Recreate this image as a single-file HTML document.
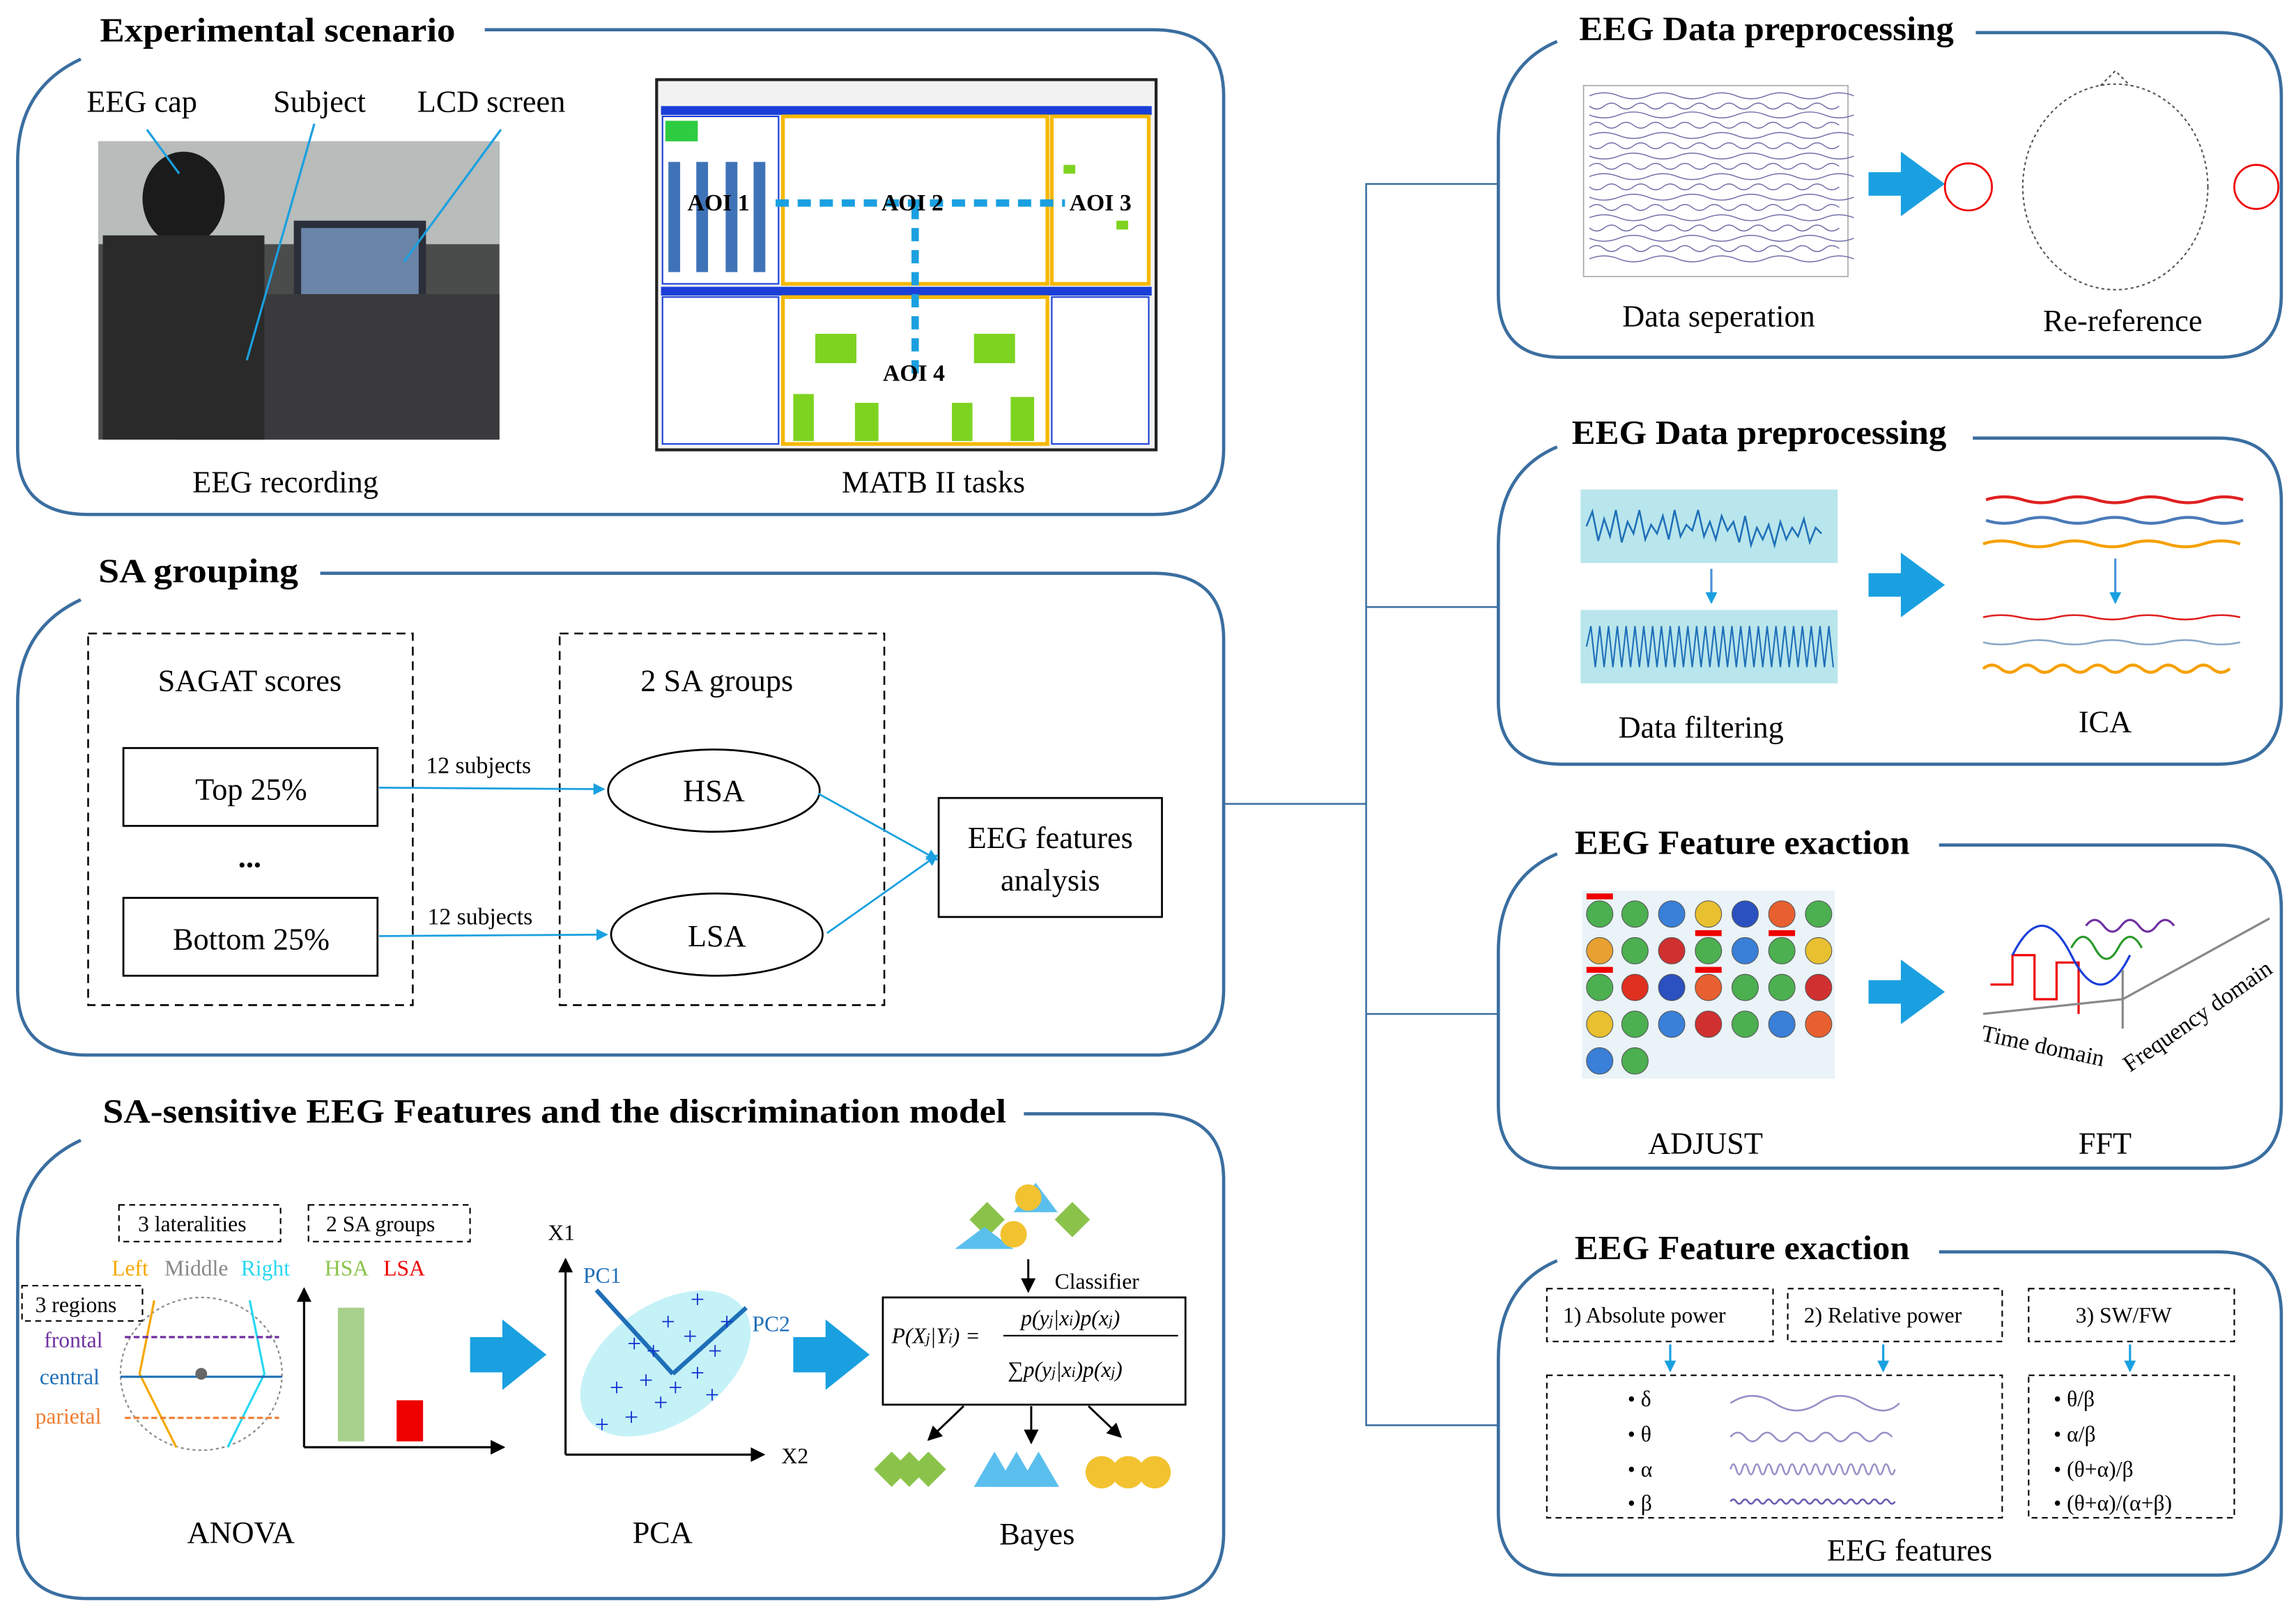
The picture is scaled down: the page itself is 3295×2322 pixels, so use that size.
<!DOCTYPE html>
<html><head><meta charset="utf-8"><style>html,body{margin:0;padding:0;background:#fff}svg{display:block}</style></head><body>
<svg xmlns="http://www.w3.org/2000/svg" width="3295" height="2322" viewBox="0 0 1563 1101" font-family="Liberation Serif, serif">
<defs>
<marker id="a" markerWidth="8" markerHeight="8" refX="7" refY="4" orient="auto" markerUnits="userSpaceOnUse"><path d="M0,0L8,4L0,8z" fill="#1aa0e0"/></marker>
<marker id="k" markerWidth="10" markerHeight="10" refX="9" refY="5" orient="auto" markerUnits="userSpaceOnUse"><path d="M0,0L10,5L0,10z" fill="#000"/></marker>
</defs>
<g fill="none" stroke="#3a6ea0" stroke-width="2.2">
<path d="M55,40 Q12,60 12,110 L12,305 Q12,350 60,350 L785,350 Q833,350 833,305 L833,65 Q833,20 785,20 L330,20"/>
<path d="M55,408 Q12,428 12,478 L12,673 Q12,718 60,718 L785,718 Q833,718 833,673 L833,435 Q833,390 785,390 L218,390"/>
<path d="M55,776 Q12,796 12,846 L12,1043 Q12,1088 60,1088 L785,1088 Q833,1088 833,1043 L833,803 Q833,758 785,758 L697,758"/>
<path d="M1060,28 Q1020,45 1020,95 L1020,200 Q1020,243 1063,243 L1510,243 Q1553,243 1553,200 L1553,65 Q1553,22 1510,22 L1345,22"/>
<path d="M1060,304 Q1020,321 1020,371 L1020,477 Q1020,520 1063,520 L1510,520 Q1553,520 1553,477 L1553,341 Q1553,298 1510,298 L1343,298"/>
<path d="M1060,581 Q1020,598 1020,648 L1020,752 Q1020,795 1063,795 L1510,795 Q1553,795 1553,752 L1553,618 Q1553,575 1510,575 L1320,575"/>
<path d="M1060,858 Q1020,875 1020,925 L1020,1029 Q1020,1072 1063,1072 L1510,1072 Q1553,1072 1553,1029 L1553,895 Q1553,852 1510,852 L1320,852"/>
</g>
<g stroke="#3a6ea0" stroke-width="1.2" fill="none">
<path d="M1020,125 L930,125 L930,970 L1020,970 M930,413 L1020,413 M930,690 L1020,690 M833,547 L930,547"/>
</g>
<g font-weight="bold" font-size="23" lengthAdjust="spacingAndGlyphs">
<text x="68" y="28" textLength="242" lengthAdjust="spacingAndGlyphs">Experimental scenario</text>
<text x="67" y="396" textLength="136" lengthAdjust="spacingAndGlyphs">SA grouping</text>
<text x="70" y="764" textLength="615" lengthAdjust="spacingAndGlyphs">SA-sensitive EEG Features and the discrimination model</text>
<text x="1075" y="27" textLength="255" lengthAdjust="spacingAndGlyphs">EEG Data preprocessing</text>
<text x="1070" y="302" textLength="255" lengthAdjust="spacingAndGlyphs">EEG Data preprocessing</text>
<text x="1072" y="581" textLength="228" lengthAdjust="spacingAndGlyphs">EEG Feature exaction</text>
<text x="1072" y="857" textLength="228" lengthAdjust="spacingAndGlyphs">EEG Feature exaction</text>
</g>
<g font-size="21">
<text x="59" y="76">EEG cap</text><text x="186" y="76">Subject</text><text x="284" y="76">LCD screen</text>
<text x="131" y="335">EEG recording</text><text x="573" y="335">MATB II tasks</text>
</g>
<rect x="67" y="96" width="273" height="203" fill="#4a4c4c"/>
<rect x="67" y="96" width="273" height="70" fill="#b8bcbb"/>
<rect x="200" y="150" width="90" height="60" fill="#2a2f3a"/><rect x="205" y="155" width="80" height="50" fill="#6a85a8"/>
<rect x="120" y="200" width="220" height="99" fill="#3a3a3c"/>
<ellipse cx="125" cy="135" rx="28" ry="32" fill="#1b1b1b"/><rect x="70" y="160" width="110" height="139" fill="#2a2a2a"/>
<g stroke="#1aa0e0" stroke-width="1.5"><line x1="100" y1="88" x2="122" y2="118"/><line x1="214" y1="84" x2="168" y2="245"/><line x1="341" y1="88" x2="275" y2="178"/></g>
<rect x="447" y="54" width="340" height="252" fill="#f2f2f2" stroke="#222" stroke-width="2"/>
<rect x="450" y="72" width="334" height="6" fill="#1a3fd8"/>
<rect x="450" y="195" width="334" height="6" fill="#1a3fd8"/>
<rect x="451" y="79" width="79" height="114" fill="#fff" stroke="#1a3fd8"/>
<rect x="533" y="79" width="180" height="114" fill="#fff" stroke="#f5b800" stroke-width="2.5"/>
<rect x="716" y="79" width="66" height="114" fill="#fff" stroke="#f5b800" stroke-width="2.5"/>
<rect x="533" y="202" width="180" height="100" fill="#fff" stroke="#f5b800" stroke-width="2.5"/>
<rect x="451" y="202" width="79" height="100" fill="#fff" stroke="#1a3fd8"/>
<rect x="716" y="202" width="66" height="100" fill="#fff" stroke="#1a3fd8"/>
<rect x="453" y="82" width="22" height="14" fill="#2ecc40"/>
<g fill="#3f73b8"><rect x="455" y="110" width="8" height="75"/><rect x="474" y="110" width="8" height="75"/><rect x="494" y="110" width="8" height="75"/><rect x="513" y="110" width="8" height="75"/></g>
<g fill="#7ed321"><rect x="555" y="227" width="28" height="20"/><rect x="663" y="227" width="28" height="20"/><rect x="540" y="268" width="14" height="32"/><rect x="582" y="274" width="16" height="26"/><rect x="648" y="274" width="14" height="26"/><rect x="688" y="270" width="16" height="30"/><rect x="724" y="112" width="8" height="6"/><rect x="760" y="150" width="8" height="6"/></g>
<g stroke="#1aa0e0" stroke-width="5" stroke-dasharray="9,6"><line x1="528" y1="138" x2="725" y2="138"/><line x1="623" y1="140" x2="623" y2="255"/></g>
<g font-size="16" font-weight="bold"><text x="468" y="143">AOI 1</text><text x="600" y="143">AOI 2</text><text x="728" y="143">AOI 3</text><text x="601" y="259">AOI 4</text></g>
<g fill="none" stroke="#000" stroke-dasharray="6,4" stroke-width="1.2"><rect x="60" y="431" width="221" height="253"/><rect x="381" y="431" width="221" height="253"/></g>
<g fill="none" stroke="#000" stroke-width="1.3"><rect x="84" y="509" width="173" height="53"/><rect x="84" y="611" width="173" height="53"/><ellipse cx="486" cy="538" rx="72" ry="28"/><ellipse cx="488" cy="636" rx="72" ry="28"/><rect x="639" y="543" width="152" height="81"/></g>
<g stroke="#1aa0e0" stroke-width="1.3" fill="none"><line x1="258" y1="536" x2="411" y2="537" marker-end="url(#a)"/><line x1="258" y1="637" x2="413" y2="636" marker-end="url(#a)"/><line x1="557" y1="540" x2="638" y2="585" marker-end="url(#a)"/><line x1="563" y1="635" x2="638" y2="582" marker-end="url(#a)"/></g>
<g font-size="21" text-anchor="middle"><text x="170" y="470">SAGAT scores</text><text x="488" y="470">2 SA groups</text><text x="171" y="544">Top 25%</text><text x="171" y="646">Bottom 25%</text><text x="170" y="590" font-weight="bold">...</text><text x="486" y="545">HSA</text><text x="488" y="644">LSA</text><text x="715" y="577">EEG features</text><text x="715" y="606">analysis</text></g>
<g font-size="16"><text x="290" y="526">12 subjects</text><text x="291" y="629">12 subjects</text></g>
<g fill="none" stroke="#000" stroke-dasharray="4,3"><rect x="81" y="820" width="110" height="25"/><rect x="210" y="820" width="110" height="25"/><rect x="15" y="875" width="82" height="24"/></g>
<g font-size="15"><text x="94" y="838">3 lateralities</text><text x="222" y="838">2 SA groups</text><text x="24" y="893">3 regions</text>
<text x="76" y="868" fill="#f5a800">Left</text><text x="112" y="868" fill="#888">Middle</text><text x="164" y="868" fill="#29d8f0">Right</text>
<text x="221" y="868" fill="#8bc34a">HSA</text><text x="261" y="868" fill="#e00">LSA</text>
<text x="30" y="917" fill="#7030a0">frontal</text><text x="27" y="942" fill="#1f6fb8">central</text><text x="24" y="969" fill="#ee7d31">parietal</text></g>
<ellipse cx="137" cy="935" rx="55" ry="52" fill="none" stroke="#888" stroke-dasharray="2,2"/>
<g fill="none" stroke-width="1.5"><path d="M105,885 L95,935 L120,985" stroke="#f5a800"/><path d="M170,885 L180,935 L155,985" stroke="#29d8f0"/><line x1="85" y1="910" x2="190" y2="910" stroke="#7030a0" stroke-dasharray="4,2"/><line x1="82" y1="937" x2="192" y2="937" stroke="#1f6fb8"/><line x1="85" y1="965" x2="190" y2="965" stroke="#ee7d31" stroke-dasharray="4,2"/></g>
<circle cx="137" cy="935" r="4" fill="#666"/>
<g stroke="#000" stroke-width="1.5" fill="none"><line x1="207" y1="985" x2="207" y2="877" marker-end="url(#k)"/><line x1="207" y1="985" x2="343" y2="985" marker-end="url(#k)"/></g>
<rect x="230" y="890" width="18" height="91" fill="#a9d18e"/><rect x="270" y="953" width="18" height="28" fill="#e00"/>
<g stroke="#000" stroke-width="1.5" fill="none"><line x1="385" y1="990" x2="385" y2="857" marker-end="url(#k)"/><line x1="385" y1="990" x2="520" y2="990" marker-end="url(#k)"/></g>
<text x="373" y="844" font-size="15">X1</text><text x="532" y="996" font-size="15">X2</text>
<ellipse cx="453" cy="928" rx="65" ry="40" transform="rotate(-35 453 928)" fill="#c5f2f7"/>
<g stroke="#1f6fb8" stroke-width="3" fill="none"><line x1="458" y1="935" x2="406" y2="878"/><line x1="458" y1="935" x2="508" y2="890"/></g>
<g font-size="15" fill="#1f6fb8"><text x="397" y="873">PC1</text><text x="512" y="906">PC2</text></g>
<g font-size="17" fill="#1030d0"><text x="405" y="975">+</text><text x="425" y="970">+</text><text x="445" y="960">+</text><text x="415" y="950">+</text><text x="435" y="945">+</text><text x="455" y="950">+</text><text x="470" y="940">+</text><text x="482" y="925">+</text><text x="490" y="905">+</text><text x="465" y="915">+</text><text x="450" y="905">+</text><text x="470" y="890">+</text><text x="427" y="920">+</text><text x="440" y="925">+</text><text x="480" y="955">+</text></g>
<g fill="#8bc34a"><path d="M660,830 l12,-12 12,12 -12,12z"/><path d="M718,830 l12,-12 12,12 -12,12z"/><path d="M595,1000 l12,-12 12,12 -12,12z"/><path d="M607,1000 l12,-12 12,12 -12,12z"/><path d="M620,1000 l12,-12 12,12 -12,12z"/></g>
<g fill="#5bbfee"><path d="M650,850 l20,-15 20,15z"/><path d="M690,825 l15,-20 15,20z"/><path d="M663,1012 l14,-24 14,24z"/><path d="M678,1012 l14,-24 14,24z"/><path d="M693,1012 l14,-24 14,24z"/></g>
<g fill="#f2c230"><circle cx="700" cy="815" r="9"/><circle cx="690" cy="840" r="9"/><circle cx="750" cy="1002" r="11"/><circle cx="768" cy="1002" r="11"/><circle cx="786" cy="1002" r="11"/></g>
<text x="718" y="877" font-size="15">Classifier</text>
<rect x="601" y="883" width="206" height="73" fill="none" stroke="#000" stroke-width="1.3"/>
<g font-size="15" font-style="italic"><text x="607" y="914">P(X<tspan font-size="10">j</tspan>|Y<tspan font-size="10">i</tspan>) =</text><text x="695" y="902">p(y<tspan font-size="10">j</tspan>|x<tspan font-size="10">i</tspan>)p(x<tspan font-size="10">j</tspan>)</text><text x="686" y="937">∑p(y<tspan font-size="10">j</tspan>|x<tspan font-size="10">i</tspan>)p(x<tspan font-size="10">j</tspan>)</text></g>
<line x1="683" y1="909" x2="802" y2="909" stroke="#000"/>
<g stroke="#000" stroke-width="1.4"><line x1="700" y1="857" x2="700" y2="879" marker-end="url(#k)"/><line x1="656" y1="957" x2="632" y2="980" marker-end="url(#k)"/><line x1="702" y1="957" x2="702" y2="982" marker-end="url(#k)"/><line x1="741" y1="957" x2="763" y2="978" marker-end="url(#k)"/></g>
<g fill="#1aa0e0"><path d="M320,910 h22 v-12 l30,24 -30,24 v-12 h-22z"/><path d="M540,910 h22 v-12 l30,24 -30,24 v-12 h-22z"/>
<path d="M1272,117 h22 v-14 l30,22 -30,22 v-14 h-22z"/><path d="M1272,390 h22 v-14 l30,22 -30,22 v-14 h-22z"/><path d="M1272,667 h22 v-14 l30,22 -30,22 v-14 h-22z"/></g>
<g font-size="21" text-anchor="middle"><text x="164" y="1050">ANOVA</text><text x="451" y="1050">PCA</text><text x="706" y="1051">Bayes</text>
<text x="1170" y="222">Data seperation</text><text x="1445" y="225">Re-reference</text><text x="1158" y="502">Data filtering</text><text x="1433" y="498">ICA</text><text x="1161" y="785">ADJUST</text><text x="1433" y="785">FFT</text><text x="1300" y="1062">EEG features</text></g>
<rect x="1078" y="58" width="180" height="130" fill="#fff" stroke="#aaa" stroke-width="0.8"/>
<g stroke="#6f6fa8" stroke-width="0.7" fill="none">
<path d="M1082,65 q10,-4 20,0 t20,0 t20,0 t20,0 t20,0 t20,0 t20,0 t20,0 t20,0"/><path d="M1082,72 q5,4 10,0 t10,0 t10,0 t10,0 t10,0 t10,0 t10,0 t10,0 t10,0 t10,0 t10,0 t10,0 t10,0 t10,0 t10,0 t10,0 t10,0"/><path d="M1082,78 q10,4 20,0 t20,0 t20,0 t20,0 t20,0 t20,0 t20,0 t20,0 t20,0"/><path d="M1082,85 q5,-4 10,0 t10,0 t10,0 t10,0 t10,0 t10,0 t10,0 t10,0 t10,0 t10,0 t10,0 t10,0 t10,0 t10,0 t10,0 t10,0 t10,0"/><path d="M1082,92 q10,-4 20,0 t20,0 t20,0 t20,0 t20,0 t20,0 t20,0 t20,0 t20,0"/><path d="M1082,99 q5,4 10,0 t10,0 t10,0 t10,0 t10,0 t10,0 t10,0 t10,0 t10,0 t10,0 t10,0 t10,0 t10,0 t10,0 t10,0 t10,0 t10,0"/><path d="M1082,106 q10,4 20,0 t20,0 t20,0 t20,0 t20,0 t20,0 t20,0 t20,0 t20,0"/><path d="M1082,113 q5,-4 10,0 t10,0 t10,0 t10,0 t10,0 t10,0 t10,0 t10,0 t10,0 t10,0 t10,0 t10,0 t10,0 t10,0 t10,0 t10,0 t10,0"/><path d="M1082,120 q10,-4 20,0 t20,0 t20,0 t20,0 t20,0 t20,0 t20,0 t20,0 t20,0"/><path d="M1082,127 q5,4 10,0 t10,0 t10,0 t10,0 t10,0 t10,0 t10,0 t10,0 t10,0 t10,0 t10,0 t10,0 t10,0 t10,0 t10,0 t10,0 t10,0"/><path d="M1082,134 q10,4 20,0 t20,0 t20,0 t20,0 t20,0 t20,0 t20,0 t20,0 t20,0"/><path d="M1082,141 q5,-4 10,0 t10,0 t10,0 t10,0 t10,0 t10,0 t10,0 t10,0 t10,0 t10,0 t10,0 t10,0 t10,0 t10,0 t10,0 t10,0 t10,0"/><path d="M1082,148 q10,-4 20,0 t20,0 t20,0 t20,0 t20,0 t20,0 t20,0 t20,0 t20,0"/><path d="M1082,155 q5,4 10,0 t10,0 t10,0 t10,0 t10,0 t10,0 t10,0 t10,0 t10,0 t10,0 t10,0 t10,0 t10,0 t10,0 t10,0 t10,0 t10,0"/><path d="M1082,162 q10,4 20,0 t20,0 t20,0 t20,0 t20,0 t20,0 t20,0 t20,0 t20,0"/><path d="M1082,169 q5,-4 10,0 t10,0 t10,0 t10,0 t10,0 t10,0 t10,0 t10,0 t10,0 t10,0 t10,0 t10,0 t10,0 t10,0 t10,0 t10,0 t10,0"/><path d="M1082,176 q10,-4 20,0 t20,0 t20,0 t20,0 t20,0 t20,0 t20,0 t20,0 t20,0"/></g>
<ellipse cx="1440" cy="127" rx="63" ry="70" fill="none" stroke="#555" stroke-dasharray="2,2"/>
<path d="M1430,58 l10,-10 10,10" fill="none" stroke="#555" stroke-dasharray="2,2"/>
<g fill="none" stroke="#e00" stroke-width="1.3"><circle cx="1340" cy="127" r="16"/><circle cx="1536" cy="127" r="15"/></g>
<rect x="1076" y="333" width="175" height="50" fill="#b9e6ec"/><rect x="1076" y="415" width="175" height="50" fill="#b9e6ec"/>
<path d="M1080,358 l4,-10 4,20 4,-15 4,12 4,-18 4,22 4,-14 4,8 4,-16 4,20 4,-10 4,6 4,-12 4,16 4,-20 4,18 4,-8 4,4 4,-14 4,18 4,-10 4,12 4,-16 4,10 4,-6 4,14 4,-18 4,20 4,-12 4,8 4,-10 4,14 4,-16 4,12 4,-8 4,6 4,-12 4,16 4,-10 4,4" fill="none" stroke="#1f6fb8" stroke-width="1.2"/>
<path d="M1080,440 l3,-14 3,28 3,-28 3,28 3,-28 3,28 3,-28 3,28 3,-28 3,28 3,-28 3,28 3,-28 3,28 3,-28 3,28 3,-28 3,28 3,-28 3,28 3,-28 3,28 3,-28 3,28 3,-28 3,28 3,-28 3,28 3,-28 3,28 3,-28 3,28 3,-28 3,28 3,-28 3,28 3,-28 3,28 3,-28 3,28 3,-28 3,28 3,-28 3,28 3,-28 3,28 3,-28 3,28 3,-28 3,28 3,-28 3,28 3,-28 3,28 3,-28 3,28" fill="none" stroke="#1f6fb8" stroke-width="1"/>
<g stroke-width="2" fill="none"><path d="M1352,340 q12,-4 25,0 t25,0 t25,0 t25,0 t25,0 t25,0 t25,0" stroke="#e02020"/><path d="M1352,354 q12,4 25,0 t25,0 t25,0 t25,0 t25,0 t25,0 t25,0" stroke="#4a7ab8"/><path d="M1350,370 q12,-4 25,0 t25,0 t25,0 t25,0 t25,0 t25,0 t25,0" stroke="#f5a000"/>
<path d="M1350,420 q12,-3 25,0 t25,0 t25,0 t25,0 t25,0 t25,0 t25,0" stroke="#e02020" stroke-width="1.2"/><path d="M1350,437 q12,3 25,0 t25,0 t25,0 t25,0 t25,0 t25,0 t25,0" stroke="#8aa8c8" stroke-width="1.2"/><path d="M1350,455 q6,-5 12,0 t12,0 t12,0 t12,0 t12,0 t12,0 t12,0 t12,0 t12,0 t12,0 t12,0 t12,0 t12,0 t12,0" stroke="#f5a000"/></g>
<g stroke="#4a90d9" stroke-width="1.5"><line x1="1165" y1="387" x2="1165" y2="410" marker-end="url(#a)"/><line x1="1440" y1="380" x2="1440" y2="410" marker-end="url(#a)"/></g>
<rect x="1077" y="606" width="172" height="128" fill="#eaf3f8"/>
<g stroke="#555" stroke-width="0.5">
<g fill="#4caf50"><circle cx="1089" cy="622" r="9"/><circle cx="1113" cy="622" r="9"/><circle cx="1138" cy="622" r="9" fill="#3a7fd8"/><circle cx="1163" cy="622" r="9" fill="#e8c030"/><circle cx="1188" cy="622" r="9" fill="#2b50c0"/><circle cx="1213" cy="622" r="9" fill="#e86030"/><circle cx="1238" cy="622" r="9"/>
<circle cx="1089" cy="647" r="9" fill="#e8a030"/><circle cx="1113" cy="647" r="9"/><circle cx="1138" cy="647" r="9" fill="#d03030"/><circle cx="1163" cy="647" r="9"/><circle cx="1188" cy="647" r="9" fill="#3a7fd8"/><circle cx="1213" cy="647" r="9"/><circle cx="1238" cy="647" r="9" fill="#e8c030"/>
<circle cx="1089" cy="672" r="9"/><circle cx="1113" cy="672" r="9" fill="#e03020"/><circle cx="1138" cy="672" r="9" fill="#2b50c0"/><circle cx="1163" cy="672" r="9" fill="#e86030"/><circle cx="1188" cy="672" r="9"/><circle cx="1213" cy="672" r="9"/><circle cx="1238" cy="672" r="9" fill="#d03030"/>
<circle cx="1089" cy="697" r="9" fill="#e8c030"/><circle cx="1113" cy="697" r="9"/><circle cx="1138" cy="697" r="9" fill="#3a7fd8"/><circle cx="1163" cy="697" r="9" fill="#d03030"/><circle cx="1188" cy="697" r="9"/><circle cx="1213" cy="697" r="9" fill="#3a7fd8"/><circle cx="1238" cy="697" r="9" fill="#e86030"/>
<circle cx="1089" cy="722" r="9" fill="#3a7fd8"/><circle cx="1113" cy="722" r="9"/></g></g>
<g fill="#e00"><rect x="1080" y="608" width="18" height="4"/><rect x="1154" y="633" width="18" height="4"/><rect x="1080" y="658" width="18" height="4"/><rect x="1154" y="658" width="18" height="4"/><rect x="1204" y="633" width="18" height="4"/></g>
<g fill="none" stroke-width="1.5"><path d="M1355,670 h15 v-20 h15 v30 h15 v-25 h15 v35" stroke="#e00"/><path d="M1370,650 q20,-40 40,0 t40,0" stroke="#1a3fd8"/><path d="M1410,645 q8,-15 16,0 t16,0 t16,0" stroke="#2a9a2a"/><path d="M1420,630 q6,-8 12,0 t12,0 t12,0 t12,0 t12,0" stroke="#7030a0"/>
<path d="M1350,690 L1445,680 L1545,625" stroke="#888"/><line x1="1445" y1="700" x2="1445" y2="660" stroke="#888"/></g>
<text x="1348" y="708" font-size="16" transform="rotate(12 1348 708)">Time domain</text>
<text x="1450" y="730" font-size="16" transform="rotate(-35 1450 730)">Frequency domain</text>
<g fill="none" stroke="#000" stroke-dasharray="4,3"><rect x="1053" y="877" width="154" height="36"/><rect x="1217" y="877" width="146" height="36"/><rect x="1381" y="877" width="140" height="36"/><rect x="1053" y="936" width="310" height="97"/><rect x="1381" y="936" width="140" height="97"/></g>
<g font-size="15"><text x="1064" y="900">1)  Absolute power</text><text x="1228" y="900">2) Relative power</text><text x="1413" y="900">3) SW/FW</text>
<text x="1108" y="957">•    δ</text><text x="1108" y="981">•    θ</text><text x="1108" y="1005">•    α</text><text x="1108" y="1028">•    β</text>
<text x="1398" y="957">•    θ/β</text><text x="1398" y="981">•    α/β</text><text x="1398" y="1005">•    (θ+α)/β</text><text x="1398" y="1028">•    (θ+α)/(α+β)</text></g>
<g stroke="#1aa0e0" stroke-width="1.5"><line x1="1137" y1="915" x2="1137" y2="933" marker-end="url(#a)"/><line x1="1282" y1="915" x2="1282" y2="933" marker-end="url(#a)"/><line x1="1450" y1="915" x2="1450" y2="933" marker-end="url(#a)"/></g>
<g fill="none" stroke="#9b8fc8" stroke-width="1.2"><path d="M1178,955 q15,-10 30,0 t30,0 t30,0 t25,0"/><path d="M1178,978 q5,-6 10,0 t10,0 t10,0 t10,0 t10,0 t10,0 t10,0 t10,0 t10,0 t10,0 t10,0"/><path d="M1178,1000 q2,-7 4,0 t4,0 t4,0 t4,0 t4,0 t4,0 t4,0 t4,0 t4,0 t4,0 t4,0 t4,0 t4,0 t4,0 t4,0 t4,0 t4,0 t4,0 t4,0 t4,0 t4,0 t4,0 t4,0 t4,0 t4,0 t4,0 t4,0 t4,0"/><path d="M1178,1022 q2,-3 4,0 t4,0 t4,0 t4,0 t4,0 t4,0 t4,0 t4,0 t4,0 t4,0 t4,0 t4,0 t4,0 t4,0 t4,0 t4,0 t4,0 t4,0 t4,0 t4,0 t4,0 t4,0 t4,0 t4,0 t4,0 t4,0 t4,0 t4,0" stroke="#6a5ab0"/></g>
</svg>
</body></html>
